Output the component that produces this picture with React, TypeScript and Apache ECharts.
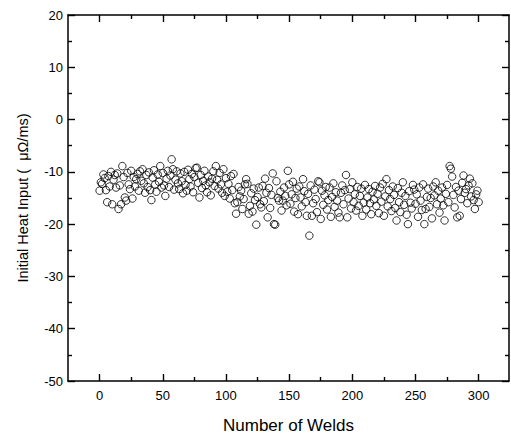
import React, { useEffect, useRef } from "react";
import * as echarts from "echarts";

const heatInput: number[] = [
  -13.6, -12.0, -12.3, -10.5, -11.2, -13.5, -15.8, -10.8, -12.8, -10.0,
  -16.2, -11.5, -10.6, -13.0, -10.3, -17.1, -12.6, -16.2, -8.9, -11.0,
  -14.9, -15.5, -10.2, -12.4, -13.3, -9.8, -15.1, -11.0, -12.8, -11.4,
  -10.4, -13.6, -9.9, -11.7, -9.5, -12.2, -14.0, -10.6, -12.9, -10.1,
  -13.5, -15.4, -11.1, -9.7, -12.4, -13.8, -10.5, -11.9, -8.9, -13.0,
  -10.2, -12.6, -14.6, -11.3, -9.8, -12.9, -10.7, -7.6, -9.5, -13.4,
  -11.5, -9.9, -12.2, -13.3, -10.3, -11.8, -14.1, -10.0, -12.5, -13.6,
  -9.6, -11.4, -12.8, -10.4, -13.9, -11.0, -9.3, -9.2, -12.1, -14.9,
  -10.6, -13.1, -11.7, -9.8, -12.6, -13.9, -10.9, -12.0, -14.5, -11.3,
  -9.9, -12.7, -8.9, -11.5, -13.2, -10.2, -12.4, -14.0, -9.5, -14.6,
  -11.2, -13.8, -12.3, -15.1, -10.8, -13.5, -10.4, -16.0, -18.0, -15.8,
  -12.9, -14.7, -13.6, -17.1, -15.2, -12.4, -11.4, -12.3, -18.0, -16.5,
  -14.1, -17.6, -13.2, -15.4, -20.1, -14.8, -13.0, -16.2, -16.8, -12.7,
  -15.6, -11.3, -14.0, -18.7, -13.1, -16.9, -14.4, -10.3, -20.0, -20.1,
  -11.8, -15.0, -15.5, -13.8, -17.4, -15.5, -13.0, -14.6, -16.4, -9.8,
  -12.4, -16.1, -14.3, -11.9, -17.6, -15.0, -13.2, -18.1, -12.8, -14.9,
  -16.6, -11.4, -13.7, -15.8, -18.4, -14.2, -22.2, -12.6, -18.4, -16.0,
  -13.4, -15.2, -17.7, -11.8, -12.0, -19.0, -13.6, -16.3, -14.5, -12.9,
  -17.2, -15.4, -13.0, -18.6, -14.8, -12.2, -16.7, -13.9, -15.5, -17.8,
  -18.7, -14.0, -12.6, -16.2, -13.5, -10.6, -18.7, -15.1, -13.3, -17.0,
  -12.0, -15.8, -14.3, -17.4, -12.9, -16.5, -14.6, -13.2, -18.4, -15.9,
  -12.5, -17.2, -14.9, -13.3, -16.0, -18.1, -13.8, -15.3, -12.7, -16.5,
  -14.2, -17.9, -13.0, -15.7, -12.3, -18.4, -14.7, -11.4, -16.6, -13.5,
  -15.2, -17.5, -12.8, -14.4, -16.9, -19.3, -13.1, -15.8, -17.7, -14.0,
  -12.0, -16.3, -14.6, -18.2, -20.0, -13.7, -15.9, -17.0, -12.5, -13.4,
  -16.1, -14.3, -18.6, -13.0, -15.5, -17.3, -12.4, -20.0, -17.1, -14.8,
  -13.2, -16.7, -15.0, -18.9, -12.8, -14.5, -12.0, -16.2, -13.6, -17.8,
  -15.1, -13.0, -16.4, -19.3, -14.2, -12.5, -15.8, -8.9, -9.4, -10.9,
  -14.4, -16.8, -12.9, -18.7, -13.6, -18.4, -15.2, -12.1, -10.7, -14.0,
  -13.3, -16.0, -12.6, -11.3, -14.7, -12.2, -15.4, -17.1, -14.3, -13.6,
  -15.8,
];

const xMajorTicks: number[] = [0, 50, 100, 150, 200, 250, 300];
const xMinorTicks: number[] = [25, 75, 125, 175, 225, 275];

const FONT = "'Liberation Sans', Arial, sans-serif";

export default function App() {
  const ref = useRef<HTMLDivElement>(null);

  useEffect(() => {
    if (!ref.current) return;
    const chart = echarts.init(ref.current, undefined, { renderer: "svg" });
    const points = heatInput.map((v, i) => [i, v]);
    const mkLine = () => ({ show: true, onZero: false, lineStyle: { color: "#000", width: 1.5 } });
    const noLine = () => ({ show: false, onZero: false });
    const labelStyle = () => ({ color: "#000", fontFamily: FONT, fontSize: 13 });
    const tick = (len: number, custom?: number[]) => {
      const t: any = { show: true, inside: true, length: len, lineStyle: { color: "#000", width: 1.4 } };
      if (custom) t.customValues = custom;
      return t;
    };
    const minor = () => ({ show: true, splitNumber: 2, length: 4, lineStyle: { color: "#000", width: 1.4 } });
    const xAxisBase = (position: string) => ({
      type: "value",
      position,
      min: -25,
      max: 324,
      splitLine: { show: false },
    });
    chart.setOption({
      animation: false,
      backgroundColor: "#fff",
      grid: { left: 68, top: 15, width: 441, height: 368, containLabel: false },
      xAxis: [
        {
          ...xAxisBase("bottom"),
          axisLine: mkLine(),
          axisTick: tick(7, xMajorTicks),
          axisLabel: { show: true, customValues: xMajorTicks, margin: 8, ...labelStyle() },
          name: "Number of Welds",
          nameLocation: "middle",
          nameGap: 36,
          nameTextStyle: { color: "#000", fontFamily: FONT, fontSize: 17 },
        },
        {
          ...xAxisBase("bottom"),
          axisLine: noLine(),
          axisTick: tick(4, xMinorTicks),
          axisLabel: { show: false },
        },
        {
          ...xAxisBase("top"),
          axisLine: mkLine(),
          axisTick: tick(7, xMajorTicks),
          axisLabel: { show: false },
        },
        {
          ...xAxisBase("top"),
          axisLine: noLine(),
          axisTick: tick(4, xMinorTicks),
          axisLabel: { show: false },
        },
      ],
      yAxis: [
        {
          type: "value",
          position: "left",
          min: -50,
          max: 20,
          interval: 10,
          axisLine: mkLine(),
          axisTick: tick(7),
          minorTick: minor(),
          axisLabel: { show: true, margin: 5, ...labelStyle() },
          splitLine: { show: false },
          name: "Initial Heat Input (  μΩ/ms)",
          nameLocation: "middle",
          nameGap: 38,
          nameRotate: 90,
          nameTextStyle: { color: "#000", fontFamily: FONT, fontSize: 14.5 },
        },
        {
          type: "value",
          position: "right",
          min: -50,
          max: 20,
          interval: 10,
          axisLine: mkLine(),
          axisTick: tick(7),
          minorTick: minor(),
          axisLabel: { show: false },
          splitLine: { show: false },
        },
      ],
      series: [
        {
          type: "scatter",
          xAxisIndex: 0,
          yAxisIndex: 0,
          data: points,
          symbol: "circle",
          symbolSize: 7.5,
          itemStyle: { color: "rgba(255,255,255,0)", borderColor: "#000", borderWidth: 1 },
        },
      ],
    });
    return () => chart.dispose();
  }, []);

  return (
    <div
      ref={ref}
      style={{ position: "fixed", left: 0, top: 0, width: 511, height: 439, background: "#fff" }}
    />
  );
}
